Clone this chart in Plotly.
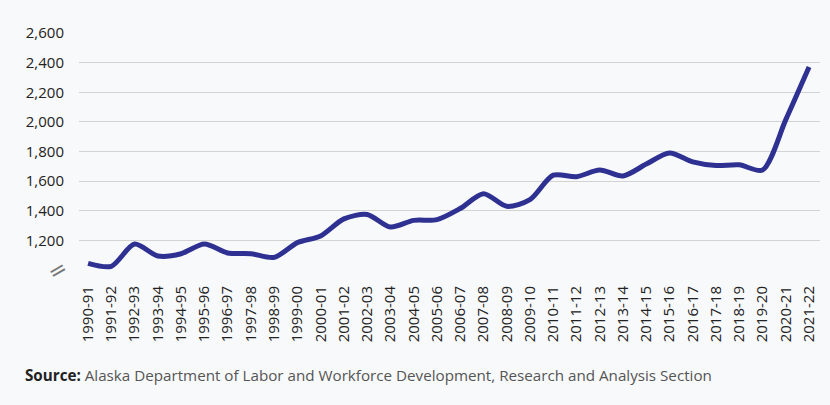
import plotly.graph_objects as go

# school years
years = [
    '1990-91', '1991-92', '1992-93', '1993-94', '1994-95', '1995-96',
    '1996-97', '1997-98', '1998-99', '1999-00', '2000-01', '2001-02',
    '2002-03', '2003-04', '2004-05', '2005-06', '2006-07', '2007-08',
    '2008-09', '2009-10', '2010-11', '2011-12', '2012-13', '2013-14',
    '2014-15', '2015-16', '2016-17', '2017-18', '2018-19', '2019-20',
    '2020-21', '2021-22',
]
values = [
    1045, 1025, 1175, 1095, 1110, 1175,
    1115, 1110, 1085, 1185, 1230, 1345,
    1375, 1290, 1335, 1340, 1415, 1515,
    1430, 1475, 1640, 1630, 1675, 1635,
    1715, 1790, 1730, 1705, 1710, 1675,
    2015, 2370,
]
y_ticks = [1000, 1200, 1400, 1600, 1800, 2000, 2200, 2400, 2600]
y_labels = ['', '1,200', '1,400', '1,600', '1,800', '2,000', '2,200', '2,400', '2,600']

FONT = 'Open Sans'
BG = '#f8f9fa'

fig = go.Figure()
fig.add_trace(go.Scatter(
    x=years, y=values, mode='lines',
    line=dict(color='#2e3192', width=5, shape='spline', smoothing=0.8),
    hoverinfo='skip',
))

fig.update_layout(
    width=830, height=405,
    margin=dict(l=79, r=10, t=33, b=135),
    paper_bgcolor=BG, plot_bgcolor=BG,
    showlegend=False,
    font=dict(family=FONT, size=15, color='#222222'),
)
fig.update_xaxes(
    type='category', range=[-0.39, 31.47],
    showgrid=False, showline=False, zeroline=False,
    tickangle=-90, ticks='', ticklabelstandoff=12,
    tickfont=dict(size=15, color='#222222'),
)
fig.update_yaxes(
    range=[1000, 2600], tickvals=y_ticks, ticktext=y_labels,
    showgrid=True, gridcolor='#d3d3d3', gridwidth=1,
    zeroline=False, showline=False, ticks='', ticklabelstandoff=14,
    tickfont=dict(size=15, color='#222222'),
)

# axis break marker
fig.add_annotation(
    xref='paper', yref='y', x=-0.053, y=1000, text='=',
    textangle=-30, showarrow=False,
    font=dict(family='DejaVu Sans', size=22, color='#777777'),
)
# source line
fig.add_annotation(
    xref='paper', yref='paper', x=-0.0756, y=-0.443,
    xanchor='left', yanchor='middle',
    text=('<b><span style="color:#222222">Source:</span></b> Alaska Department of Labor '
          'and Workforce Development, Research and Analysis Section'),
    showarrow=False,
    font=dict(family=FONT, size=15.2, color='#555555'),
)

fig.write_html('out.html', config={'displayModeBar': False},
               post_script="document.body.style.margin='0';")
